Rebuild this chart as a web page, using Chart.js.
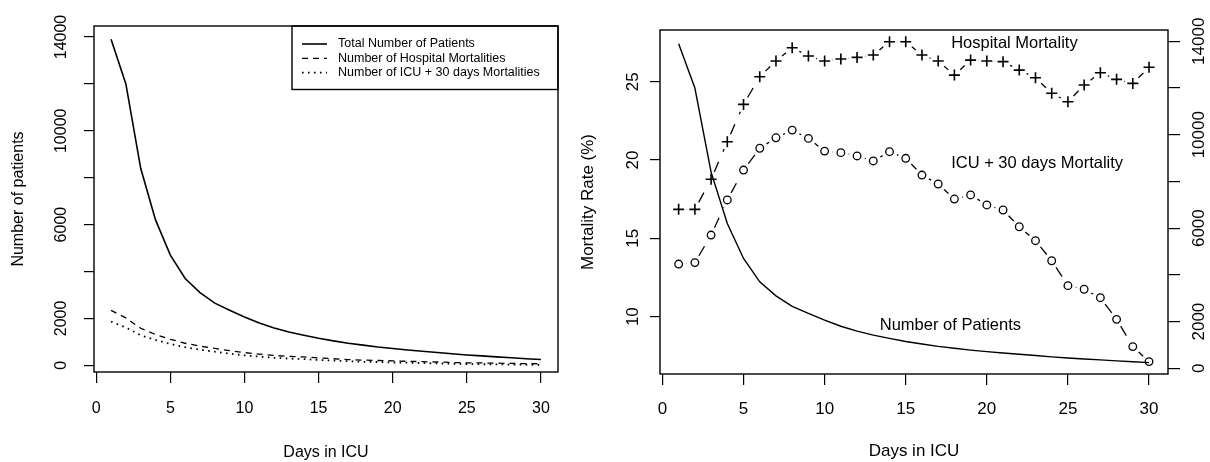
<!DOCTYPE html>
<html>
<head>
<meta charset="utf-8">
<script src="https://cdn.jsdelivr.net/npm/chart.js@4.4.1/dist/chart.umd.min.js"></script>
<style>
  html, body { margin: 0; padding: 0; background: #fff; }
  #wrap { position: relative; width: 1210px; height: 462px; }
  #left { position: absolute; left: 0; top: 0; }
  #right { position: absolute; left: 578px; top: 0; }
</style>
</head>
<body>
<div id="wrap">
  <canvas id="left" width="578" height="462"></canvas>
  <canvas id="right" width="632" height="462"></canvas>
</div>
<script>
// data
const days = [1, 2, 3, 4, 5, 6, 7, 8, 9, 10, 11, 12, 13, 14, 15, 16, 17, 18, 19, 20, 21, 22, 23, 24, 25, 26, 27, 28, 29, 30];
const totalPatients = [13900, 12000, 8400, 6200, 4700, 3700, 3100, 2650, 2350, 2060, 1800, 1590, 1420, 1280, 1150, 1040, 940, 860, 780, 715, 655, 600, 545, 490, 440, 400, 360, 320, 280, 245];
const hospDeaths = [2340, 2020, 1580, 1310, 1110, 940, 815, 720, 625, 540, 475, 420, 380, 355, 315, 280, 245, 220, 205, 190, 170, 155, 140, 120, 105, 100, 90, 80, 70, 65];
const icuDeaths = [1860, 1610, 1280, 1080, 910, 770, 665, 580, 500, 425, 370, 320, 285, 265, 230, 200, 175, 150, 140, 120, 110, 95, 80, 65, 55, 45, 40, 30, 25, 15];
const hospRate = [16.85, 16.85, 18.77, 21.17, 23.55, 25.32, 26.32, 27.17, 26.64, 26.32, 26.45, 26.55, 26.7, 27.55, 27.55, 26.7, 26.32, 25.42, 26.38, 26.32, 26.28, 25.74, 25.25, 24.26, 23.72, 24.79, 25.57, 25.15, 24.89, 25.92];
const icuRate = [13.36, 13.45, 15.21, 17.45, 19.36, 20.75, 21.42, 21.91, 21.38, 20.57, 20.47, 20.26, 19.94, 20.53, 20.11, 19.04, 18.47, 17.51, 17.77, 17.13, 16.81, 15.74, 14.85, 13.57, 11.98, 11.75, 11.21, 9.83, 8.09, 7.13];

const leftNames = ['Total Number of Patients', 'Number of Hospital Mortalities', 'Number of ICU + 30 days Mortalities'];
const rightNames = ['Number of Patients', 'Hospital Mortality', 'ICU + 30 days Mortality'];
const patientTicks = [0, 2000, 4000, 6000, 8000, 10000, 12000, 14000];
const patientTickLabels = [0, 2000, 6000, 10000, 14000];

// text notes on the right panel (day, mortality %)
const noteText = ['Hospital Mortality', 'ICU + 30 days Mortality', 'Number of Patients'];
const noteDay = [17.8, 17.8, 13.4];
const noteRate = [27.41, 19.75, 9.47];

const FONT = '"Liberation Sans", Arial, Helvetica, sans-serif';
Chart.defaults.font.family = FONT;
Chart.defaults.color = '#000';

function fixSize(w, h) {
    return function(scale) {
        if (w !== null) scale.width = w;
        if (h !== null) scale.height = h;
        scale.paddingLeft = 0;
        scale.paddingRight = 0;
        scale.paddingTop = 0;
        scale.paddingBottom = 0;
    }
}

function usePatientTicks(scale) {
    scale.ticks = patientTicks.map(v => ({ value: v }));
}

// R's type="b": every segment starts after a gap and restarts its dashes
const GAP = 8, DASH = 11;
function typeBDash(c) {
    const len = Math.hypot(c.p1.x - c.p0.x, c.p1.y - c.p0.y);
    const pattern = [0, GAP];
    let pos = GAP;
    while (pos < len - GAP) {
        const piece = Math.min(DASH, len - GAP - pos);
        pattern.push(piece);
        pos += piece;
    }
    if (pattern.length % 2 === 0) pattern.push(0);
    pattern.push(1000);
    return pattern;
}

const frame = {
    id: 'frame',
    afterDraw(chart) {
        const {ctx, chartArea: a} = chart;
        ctx.save();
        ctx.strokeStyle = '#000';
        ctx.lineWidth = 1.4;
        ctx.strokeRect(a.left, a.top, a.right - a.left, a.bottom - a.top);
        ctx.restore();
    }
};

const boxLegend = {
    id: 'boxLegend',
    afterDraw(chart, args, opts) {
        const {ctx, chartArea: a} = chart;
        const x0 = a.right - opts.width, y0 = a.top;
        ctx.save();
        ctx.strokeStyle = '#000';
        ctx.lineWidth = 1.4;
        ctx.strokeRect(x0, y0, opts.width, opts.height);
        ctx.font = opts.font;
        ctx.fillStyle = '#000';
        ctx.textBaseline = 'middle';
        chart.data.datasets.forEach((ds, i) => {
            const y = y0 + opts.firstRow + i * opts.rowGap;
            ctx.beginPath();
            ctx.setLineDash(ds.borderDash || []);
            ctx.lineWidth = ds.borderWidth;
            ctx.moveTo(x0 + 10, y);
            ctx.lineTo(x0 + 35, y);
            ctx.stroke();
            ctx.setLineDash([]);
            ctx.fillText(ds.label, x0 + 46, y);
        });
        ctx.restore();
    }
};

const notes = {
    id: 'notes',
    afterDatasetsDraw(chart) {
        const {ctx, scales} = chart;
        ctx.save();
        ctx.font = '16.5px ' + FONT;
        ctx.fillStyle = '#000';
        ctx.textAlign = 'left';
        ctx.textBaseline = 'middle';
        noteText.forEach((t, i) => {
            ctx.fillText(t, scales.x.getPixelForValue(noteDay[i]), scales.y.getPixelForValue(noteRate[i]));
        });
        ctx.restore();
    }
};

function tickGrid(len) {
    return { drawOnChartArea: false, drawTicks: true, tickLength: len, color: '#000', lineWidth: 1.2 };
}

// left panel: counts
new Chart(document.getElementById('left'), {
    type: 'line',
    data: {
        labels: days,
        datasets: [
            { label: leftNames[0], data: totalPatients, borderColor: '#000', borderWidth: 1.6 },
            { label: leftNames[1], data: hospDeaths, borderColor: '#000', borderWidth: 1.3, borderDash: [6, 5] },
            { label: leftNames[2], data: icuDeaths, borderColor: '#000', borderWidth: 1.8, borderDash: [1.6, 4.4] }
        ]
    },
    options: {
        responsive: false,
        animation: false,
        devicePixelRatio: 1,
        layout: { autoPadding: false, padding: { left: 0, top: 26, right: 20, bottom: 0 } },
        elements: { point: { radius: 0 }, line: { tension: 0 } },
        plugins: {
            legend: { display: false },
            tooltip: { enabled: false },
            boxLegend: { width: 266, height: 63.5, firstRow: 18, rowGap: 14.3, font: '12.5px ' + FONT }
        },
        scales: {
            x: {
                type: 'linear', min: -0.15, max: 31.15,
                afterFit: fixSize(null, 90),
                border: { display: false },
                grid: tickGrid(11),
                ticks: { stepSize: 5, includeBounds: false, autoSkip: false, maxRotation: 0, padding: 16, font: { size: 16 } },
                title: { display: true, text: 'Days in ICU', font: { size: 16 }, padding: 0 }
            },
            y: {
                min: -286, max: 14470,
                afterBuildTicks: usePatientTicks,
                afterFit: fixSize(94, null),
                border: { display: false },
                grid: tickGrid(10),
                ticks: {
                    autoSkip: false,
                    minRotation: 90, maxRotation: 90, crossAlign: 'center', padding: 0,
                    font: { size: 16 },
                    callback: v => patientTickLabels.includes(v) ? String(v) : ''
                },
                title: { display: true, text: 'Number of patients', font: { size: 16 }, padding: { top: 9, bottom: 0 } }
            }
        }
    },
    plugins: [frame, boxLegend]
});

// right panel: mortality rates with patient count on second axis
new Chart(document.getElementById('right'), {
    type: 'line',
    data: {
        labels: days,
        datasets: [
            { label: rightNames[0], data: totalPatients, yAxisID: 'y2', borderColor: '#000', borderWidth: 1.4, pointRadius: 0, order: 0 },
            {
                label: rightNames[1], data: hospRate, yAxisID: 'y', borderColor: '#000', borderWidth: 1.3,
                pointStyle: 'cross', pointRadius: 5.5, pointBorderWidth: 1.6, pointBorderColor: '#000',
                segment: { borderDash: typeBDash, borderDashOffset: c => (c.p0DataIndex % 2) * 0.0001 },
                order: 1
            },
            {
                label: rightNames[2], data: icuRate, yAxisID: 'y', borderColor: '#000', borderWidth: 1.3,
                pointStyle: 'circle', pointRadius: 3.8, pointBorderWidth: 1.3, pointBorderColor: '#000',
                pointBackgroundColor: 'rgba(0,0,0,0)',
                segment: { borderDash: typeBDash, borderDashOffset: c => (c.p0DataIndex % 2) * 0.0001 },
                order: 1
            }
        ]
    },
    options: {
        responsive: false,
        animation: false,
        devicePixelRatio: 1,
        layout: { autoPadding: false, padding: { left: 0, top: 30, right: 0, bottom: 0 } },
        elements: { line: { tension: 0 } },
        plugins: { legend: { display: false }, tooltip: { enabled: false } },
        scales: {
            x: {
                type: 'linear', min: -0.15, max: 31.17,
                afterFit: fixSize(null, 88),
                border: { display: false },
                grid: tickGrid(11),
                ticks: { stepSize: 5, includeBounds: false, autoSkip: false, maxRotation: 0, padding: 14, font: { size: 17 } },
                title: { display: true, text: 'Days in ICU', font: { size: 17 }, padding: 0 }
            },
            y: {
                position: 'left', min: 6.34, max: 28.3,
                afterFit: fixSize(82, null),
                border: { display: false },
                grid: tickGrid(10),
                ticks: {
                    stepSize: 5, includeBounds: false, autoSkip: false,
                    minRotation: 90, maxRotation: 90, crossAlign: 'center', padding: 7.5,
                    font: { size: 17 }
                },
                title: { display: true, text: 'Mortality Rate (%)', font: { size: 17 }, padding: { top: 0, bottom: 0 } }
            },
            y2: {
                position: 'right', min: -244, max: 14484,
                afterBuildTicks: usePatientTicks,
                afterFit: fixSize(42, null),
                border: { display: false },
                grid: tickGrid(12),
                ticks: {
                    autoSkip: false,
                    minRotation: 90, maxRotation: 90, crossAlign: 'center', padding: -4.5,
                    font: { size: 17 },
                    callback: v => patientTickLabels.includes(v) ? String(v) : ''
                }
            }
        }
    },
    plugins: [frame, notes]
});
</script>
</body>
</html>
